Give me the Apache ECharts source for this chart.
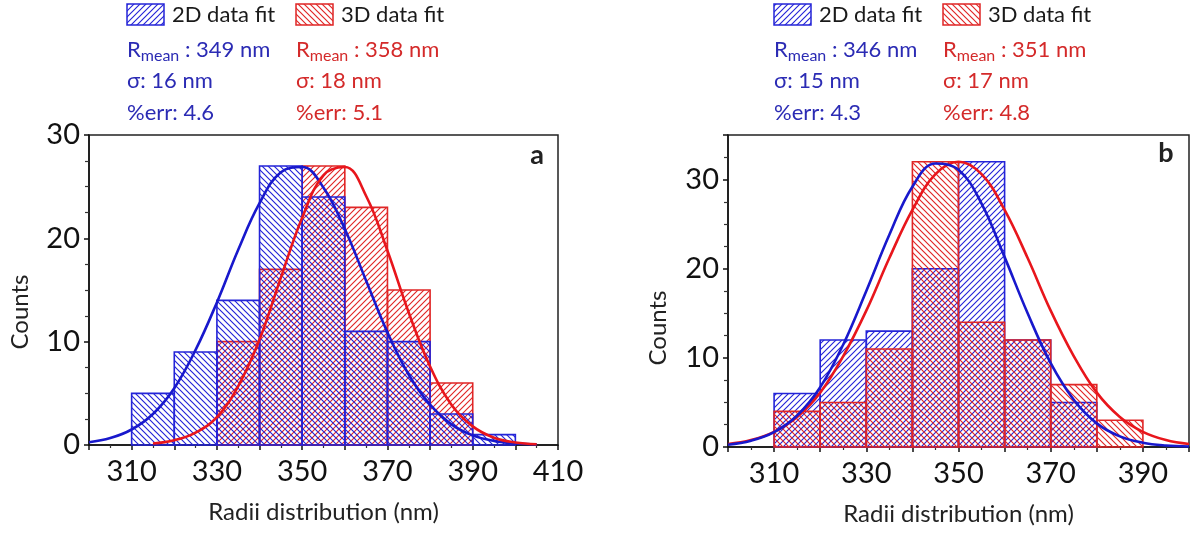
<!DOCTYPE html>
<html><head><meta charset="utf-8">
<script src="https://cdn.jsdelivr.net/npm/echarts@6/dist/echarts.min.js"></script>
<style>html,body{margin:0;padding:0;background:#fff}#c{width:1194px;height:533px}</style>
</head><body><div id="c"></div><script>
// ---------- data ----------
const BIN = 10; // nm, histogram bin width
const binsA = [310, 320, 330, 340, 350, 360, 370, 380, 390];
const counts2DA = [5, 9, 14, 27, 24, 11, 10, 3, 1];
const counts3DA = [0, 0, 10, 17, 27, 23, 15, 6, 0];
const binsB = [310, 320, 330, 340, 350, 360, 370, 380];
const counts2DB = [6, 12, 13, 20, 32, 12, 5, 0];
const counts3DB = [4, 5, 11, 32, 14, 12, 7, 3];

const fitX2DA = [300,305,310,315,320,325,330,335,340,345,350,355,360,365,370,375,380,385,390,395,400,405];
const fit2DA  = [0.27,0.67,1.5,3.0,5.5,9.2,13.8,18.9,23.4,26.4,26.9,24.9,20.9,15.9,10.9,6.8,3.9,2.0,0.93,0.4,0.15,0.06];
const fitX3DA = [315,320,325,330,335,340,345,350,355,360,365,370,375,380,385,390,395,400,405];
const fit3DA  = [0.15,0.46,1.2,2.7,5.7,10.2,16.2,22.0,26.1,26.9,24.1,18.8,12.8,7.6,3.9,1.8,0.7,0.24,0.07];
const fitXB   = [300,305,310,315,320,325,330,335,340,345,350,355,360,365,370,375,380,385,390,395,400];
const fit2DB  = [0.26,0.7,1.66,3.53,6.7,11.5,17.5,23.8,29.2,31.8,31.1,27.3,21.3,15.0,9.4,5.3,2.65,1.19,0.48,0.17,0.06];
const fit3DB  = [0.33,0.78,1.7,3.37,6.1,10.2,15.3,21.2,26.6,30.6,32,30.6,26.6,21.2,15.3,10.2,6.1,3.37,1.7,0.78,0.33];

const statsA2D = ['349 nm', '16 nm', '4.6'];
const statsA3D = ['358 nm', '18 nm', '5.1'];
const statsB2D = ['346 nm', '15 nm', '4.3'];
const statsB3D = ['351 nm', '17 nm', '4.8'];

// ---------- style ----------
const F = 'Lato, "Open Sans", sans-serif';
const BLUE = '#2424d8', RED = '#e02626';
const BLUE_T = '#2b2bb4', RED_T = '#d42a2a';
const BLUE_L = '#1818cc', RED_L = '#e8161c';

function hatch(color, dir) {
  const s = 6, c = document.createElement('canvas');
  c.width = s; c.height = s;
  const g = c.getContext('2d');
  g.strokeStyle = color; g.lineWidth = 1.15; g.beginPath();
  if (dir === '/') {
    g.moveTo(0, s); g.lineTo(s, 0);
    g.moveTo(-1, 1); g.lineTo(1, -1);
    g.moveTo(s - 1, s + 1); g.lineTo(s + 1, s - 1);
  } else {
    g.moveTo(0, 0); g.lineTo(s, s);
    g.moveTo(s - 1, -1); g.lineTo(s + 1, 1);
    g.moveTo(-1, s - 1); g.lineTo(1, s + 1);
  }
  g.stroke();
  return c;
}
const pat = (color, dir) => ({ image: hatch(color, dir), repeat: 'repeat' });

function bars(name, gi, bins, counts, color, dir, z) {
  const data = bins.map((b, i) => [b, b + BIN, counts[i]]).filter(d => d[2] > 0);
  const fill = pat(color, dir);
  return {
    type: 'custom', name, xAxisIndex: gi, yAxisIndex: gi, z, data,
    encode: { x: [0, 1], y: 2 },
    renderItem: (p, api) => {
      const a = api.coord([api.value(0), api.value(2)]);
      const b = api.coord([api.value(1), 0]);
      return { type: 'rect', shape: { x: a[0], y: a[1], width: b[0] - a[0], height: b[1] - a[1] },
        style: { fill, stroke: color, lineWidth: 1.6 } };
    }
  };
}
function curve(gi, xs, ys, color, z) {
  return { type: 'line', xAxisIndex: gi, yAxisIndex: gi, z, data: xs.map((x, i) => [x, ys[i]]),
    smooth: 0.4, showSymbol: false, lineStyle: { color, width: 2.6 }, silent: true };
}
function xAx(gi, max) {
  return { type: 'value', gridIndex: gi, min: 300, max, interval: 10,
    axisLine: { onZero: false, lineStyle: { color: '#111', width: 1.5 } },
    axisTick: { length: 5, lineStyle: { color: '#111', width: 1.5 } },
    minorTick: { show: true, splitNumber: 2, length: 3, lineStyle: { color: '#333', width: 1.2 } },
    splitLine: { show: false },
    axisLabel: { fontSize: 29, color: '#111', fontFamily: F, margin: 12,
      formatter: v => ((v - 310) % 20 === 0 ? String(v) : '') },
    name: 'Radii distribution (nm)', nameLocation: 'middle', nameGap: 55,
    nameTextStyle: { fontSize: 24, color: '#222', fontFamily: F } };
}
function yAx(gi, max) {
  return { type: 'value', gridIndex: gi, min: 0, max, interval: 10,
    axisLine: { show: true, lineStyle: { color: '#111', width: 1.5 } },
    axisTick: { show: true, length: 5, lineStyle: { color: '#111', width: 1.5 } },
    minorTick: { show: true, splitNumber: 4, length: 4, lineStyle: { color: '#333', width: 1.2 } },
    splitLine: { show: false },
    axisLabel: { fontSize: 29, color: '#111', fontFamily: F, margin: 9,
      formatter: v => (v % 10 === 0 ? String(v) : '') } };
}

function legendBlock(x2, x3, s2, s3) {
  const els = [];
  const box = (x, color, dir) => ({ type: 'rect', shape: { x, y: 4, width: 37, height: 21 },
    style: { fill: pat(color, dir), stroke: color, lineWidth: 1.5 } });
  const txt = (x, y, t, fill, rich) => ({ type: 'text', x, y,
    style: { text: t, fill, font: '22px ' + F, verticalAlign: 'middle', rich } });
  els.push(box(x2, BLUE, '/'));
  els.push(txt(x2 + 45, 15, '2D data fit', '#1a1a1a'));
  els.push(box(x3, RED, '\\'));
  els.push(txt(x3 + 45, 15, '3D data fit', '#1a1a1a'));
  [[x2, s2, BLUE_T], [x3, s3, RED_T]].forEach(([x, s, c]) => {
    const rich = { m: { fontSize: 22, fontFamily: F, fill: c, lineHeight: 28, verticalAlign: 'middle' },
                   s: { fontSize: 16, fontFamily: F, fill: c, lineHeight: 15, verticalAlign: 'bottom' } };
    els.push(txt(x, 50, '{m|R}{s|mean}{m| : ' + s[0] + '}', c, rich));
    els.push(txt(x, 81, 'σ: ' + s[1], c));
    els.push(txt(x, 113, '%err: ' + s[2], c));
  });
  return els;
}

const graphics = [
  ...legendBlock(127, 296, statsA2D, statsA3D),
  ...legendBlock(774, 943, statsB2D, statsB3D),
  { type: 'text', x: 537, y: 155, style: { text: 'a', font: 'bold 27px ' + F, fill: '#222', align: 'center', verticalAlign: 'middle' } },
  { type: 'text', x: 1166, y: 153, style: { text: 'b', font: 'bold 27px ' + F, fill: '#222', align: 'center', verticalAlign: 'middle' } },
  { type: 'text', x: 20, y: 312, rotation: Math.PI / 2, style: { text: 'Counts', font: '24px ' + F, fill: '#222', align: 'center', verticalAlign: 'middle' } },
  { type: 'text', x: 658, y: 328, rotation: Math.PI / 2, style: { text: 'Counts', font: '24px ' + F, fill: '#222', align: 'center', verticalAlign: 'middle' } }
];

const chart = echarts.init(document.getElementById('c'));
chart.setOption({
  animation: false,
  backgroundColor: '#fff',
  grid: [
    { left: 89, right: 636, top: 135, bottom: 88, show: true, borderColor: '#222', borderWidth: 1.5 },
    { left: 728, right: 5, top: 135, bottom: 86, show: true, borderColor: '#222', borderWidth: 1.5 }
  ],
  xAxis: [xAx(0, 410), xAx(1, 400)],
  yAxis: [yAx(0, 30), yAx(1, 35)],
  series: [
    bars('3D a', 0, binsA, counts3DA, RED, '/', 2),
    bars('2D a', 0, binsA, counts2DA, BLUE, '\\', 3),
    curve(0, fitX2DA, fit2DA, BLUE_L, 5),
    curve(0, fitX3DA, fit3DA, RED_L, 6),
    bars('2D b', 1, binsB, counts2DB, BLUE, '/', 2),
    bars('3D b', 1, binsB, counts3DB, RED, '\\', 3),
    curve(1, fitXB, fit3DB, RED_L, 5),
    curve(1, fitXB, fit2DB, BLUE_L, 6)
  ],
  graphic: graphics
});
</script></body></html>
